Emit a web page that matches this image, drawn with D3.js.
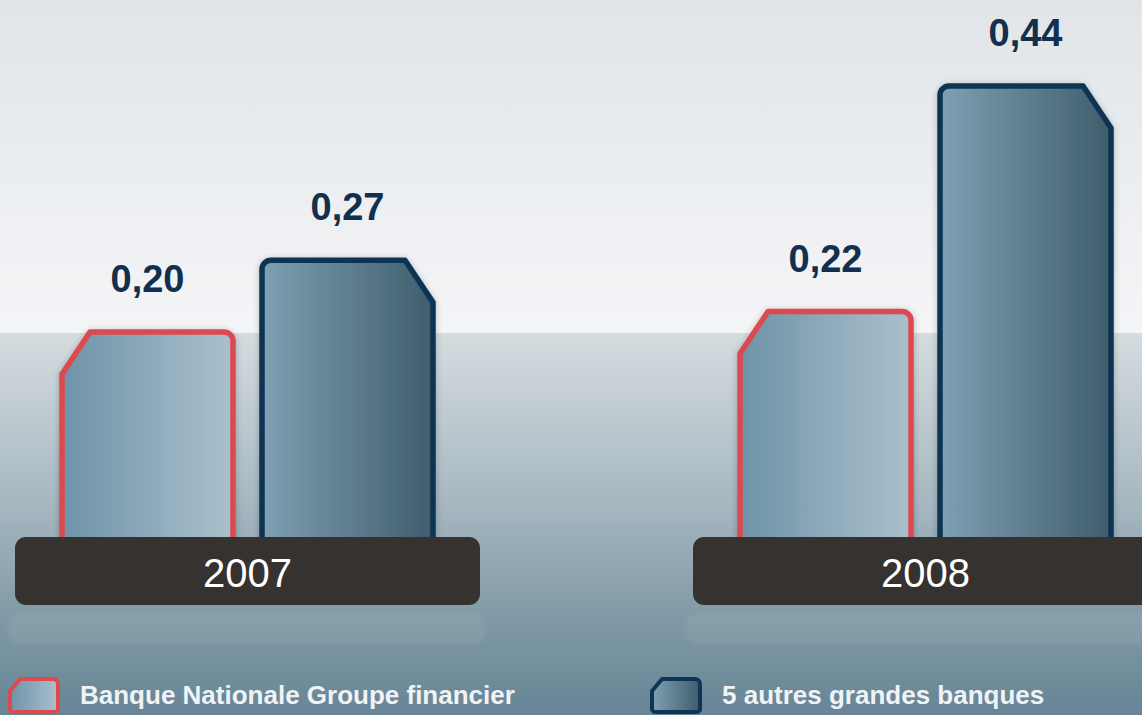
<!DOCTYPE html>
<html>
<head>
<meta charset="utf-8">
<script src="https://cdn.jsdelivr.net/npm/d3@7"></script>
<style>
  html, body { margin: 0; padding: 0; background: #fff; }
  svg { display: block; }
</style>
</head>
<body>
<div id="chart"></div>
<script>
// Data
const years = ['2007', '2008'];
const series = ['Banque Nationale Groupe financier', '5 autres grandes banques'];
const bnValues = [0.20, 0.22];
const otherValues = [0.27, 0.44];

const W = 1142, H = 715;
const svg = d3.select('#chart').append('svg')
  .attr('width', W)
  .attr('height', H);

const defs = svg.append('defs');

// background gradients
const topGrad = defs.append('linearGradient').attr('id', 'bgTop')
  .attr('x1', 0).attr('y1', 0).attr('x2', 0).attr('y2', 1);
topGrad.append('stop').attr('offset', '0%').attr('stop-color', '#e1e5e8');
topGrad.append('stop').attr('offset', '100%').attr('stop-color', '#f4f5f7');

const botGrad = defs.append('linearGradient').attr('id', 'bgBot')
  .attr('x1', 0).attr('y1', 0).attr('x2', 0).attr('y2', 1);
botGrad.append('stop').attr('offset', '0%').attr('stop-color', '#d5dcdf');
botGrad.append('stop').attr('offset', '45%').attr('stop-color', '#a6b7c0');
botGrad.append('stop').attr('offset', '78%').attr('stop-color', '#7c96a3');
botGrad.append('stop').attr('offset', '100%').attr('stop-color', '#678596');

// bar gradients
const bnGrad = defs.append('linearGradient').attr('id', 'bnFill')
  .attr('x1', 0).attr('y1', 0).attr('x2', 1).attr('y2', 0);
bnGrad.append('stop').attr('offset', '0%').attr('stop-color', '#6e93a8');
bnGrad.append('stop').attr('offset', '100%').attr('stop-color', '#abc0cc');

const otGrad = defs.append('linearGradient').attr('id', 'otFill')
  .attr('x1', 0).attr('y1', 0).attr('x2', 1).attr('y2', 0);
otGrad.append('stop').attr('offset', '0%').attr('stop-color', '#7fa0b3');
otGrad.append('stop').attr('offset', '100%').attr('stop-color', '#3f5d6c');

const shadow = defs.append('filter').attr('id', 'shadow')
  .attr('x', '-20%').attr('y', '-20%').attr('width', '140%').attr('height', '140%');
shadow.append('feDropShadow').attr('dx', 0).attr('dy', 1)
  .attr('stdDeviation', 3).attr('flood-color', '#000').attr('flood-opacity', 0.25);

const blur = defs.append('filter').attr('id', 'blur')
  .attr('x', '-10%').attr('y', '-50%').attr('width', '120%').attr('height', '200%');
blur.append('feGaussianBlur').attr('stdDeviation', 2);

// background
const splitY = 333;
svg.append('rect').attr('x', 0).attr('y', 0).attr('width', W).attr('height', splitY)
  .attr('fill', 'url(#bgTop)');
svg.append('rect').attr('x', 0).attr('y', splitY).attr('width', W).attr('height', H - splitY)
  .attr('fill', 'url(#bgBot)');

// scales
const x0 = d3.scaleBand().domain(years).range([15, 1158]).paddingInner(0.3142);
const x1 = d3.scaleBand().domain(series).range([47, 418]).paddingInner(0.145);
const y = d3.scaleLinear().domain([0, 0.44]).range([537, 86]);

const colors = { stroke: ['#dc4a50', '#0e3553'], fill: ['url(#bnFill)', 'url(#otFill)'] };
const fmt = v => d3.format('.2f')(v).replace('.', ',');

// bar path with one chamfered corner and one rounded corner
function barPath(x, top, w, bottom, chamferLeft, cw, ch, r, rb) {
  const p = d3.path();
  rb = rb || 0;
  if (chamferLeft) {
    p.moveTo(x + rb, bottom);
    if (rb) p.arcTo(x, bottom, x, bottom - rb, rb);
    p.lineTo(x, top + ch);
    p.lineTo(x + cw, top);
    p.lineTo(x + w - r, top);
    p.arcTo(x + w, top, x + w, top + r, r);
    p.lineTo(x + w, bottom - rb);
    if (rb) p.arcTo(x + w, bottom, x + w - rb, bottom, rb);
  } else {
    p.moveTo(x, bottom);
    p.lineTo(x, top + r);
    p.arcTo(x, top, x + r, top, r);
    p.lineTo(x + w - cw, top);
    p.lineTo(x + w, top + ch);
    p.lineTo(x + w, bottom);
  }
  return p.toString();
}

const data = years.map((yr, i) => ({
  year: yr,
  vals: [{ s: 0, v: bnValues[i] }, { s: 1, v: otherValues[i] }]
}));

const groups = svg.selectAll('.group')
  .data(data)
  .enter().append('g')
  .attr('class', 'group')
  .attr('transform', d => `translate(${x0(d.year)},0)`);

groups.selectAll('.bar')
  .data(d => d.vals)
  .enter().append('path')
  .attr('class', 'bar')
  .attr('d', d => barPath(x1(series[d.s]), y(d.v), x1.bandwidth(), 560, d.s === 0, 28, 42, 9))
  .attr('fill', d => colors.fill[d.s])
  .attr('stroke', d => colors.stroke[d.s])
  .attr('stroke-width', 5.5)
  .attr('stroke-linejoin', 'round')
  .attr('filter', 'url(#shadow)');

groups.selectAll('.val')
  .data(d => d.vals)
  .enter().append('text')
  .attr('class', 'val')
  .attr('x', d => x1(series[d.s]) + x1.bandwidth() / 2)
  .attr('y', d => y(d.v) - 40)
  .attr('text-anchor', 'middle')
  .style('font-family', '"Liberation Sans", Arial, sans-serif')
  .style('font-weight', 'bold')
  .style('font-size', '38px')
  .style('fill', '#12304d')
  .text(d => fmt(d.v));

// reflections below year labels
groups.append('rect')
  .attr('x', -7)
  .attr('y', 613)
  .attr('width', x0.bandwidth() + 12)
  .attr('height', 32)
  .attr('rx', 12)
  .attr('fill', '#b8c8c8')
  .attr('opacity', 0.14)
  .attr('filter', 'url(#blur)');

// year labels
groups.append('rect')
  .attr('x', 0)
  .attr('y', 537)
  .attr('width', x0.bandwidth())
  .attr('height', 68)
  .attr('rx', 11)
  .attr('fill', '#353230');

groups.append('text')
  .attr('x', x0.bandwidth() / 2)
  .attr('y', 587)
  .attr('text-anchor', 'middle')
  .style('font-family', '"Liberation Sans", Arial, sans-serif')
  .style('font-size', '40px')
  .style('fill', '#ffffff')
  .text(d => d.year);

// legend
const legendX = [8, 650];
const legend = svg.selectAll('.legend-item')
  .data(series)
  .enter().append('g')
  .attr('class', 'legend-item')
  .attr('transform', (d, i) => `translate(${legendX[i]},679)`);

legend.append('path')
  .attr('d', (d, i) => barPath(2, 0, 48, 33, true, 10, 12, 5, 3) + 'Z')
  .attr('fill', (d, i) => colors.fill[i])
  .attr('stroke', (d, i) => colors.stroke[i])
  .attr('stroke-width', 4)
  .attr('stroke-linejoin', 'round');

legend.append('text')
  .attr('x', 72)
  .attr('y', 25)
  .style('font-family', '"Liberation Sans", Arial, sans-serif')
  .style('font-weight', 'bold')
  .style('font-size', '26px')
  .style('fill', '#f0f3f5')
  .text(d => d);
</script>
</body>
</html>
